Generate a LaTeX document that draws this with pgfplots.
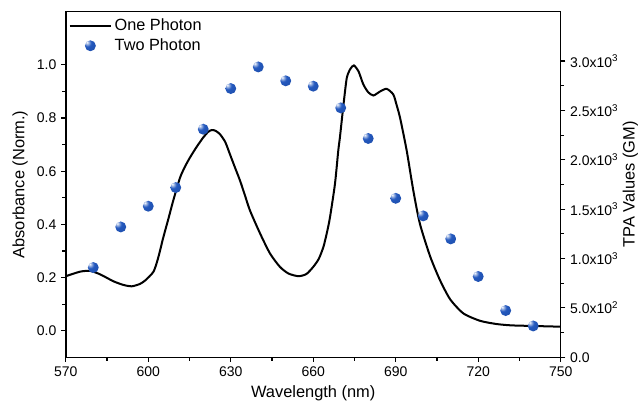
\documentclass[border=0pt]{standalone}
\usepackage{fontspec}
\setmainfont{Liberation Sans}
\usepackage{pgfplots}
\pgfplotsset{compat=1.18}
\definecolor{tpa}{RGB}{35,88,190}
\pgfdeclareradialshading{tpaballshade}{\pgfpoint{-16bp}{16bp}}{%
  color(0bp)=(white); color(7bp)=(tpa!45!white); color(17bp)=(tpa);
  color(55bp)=(tpa!85!black); color(72bp)=(tpa!65!black); color(100bp)=(tpa!65!black)}
\pgfdeclareplotmark{tpaball}{%
  \pgfpathcircle{\pgfpointorigin}{\pgfplotmarksize}%
  \pgfshadepath{tpaballshade}{0}%
  \pgfusepath{discard}}
\pgfplotsset{
  lineleg/.style={legend image code/.code={\draw[##1] (0pt,0pt) -- (31pt,0pt);}},
  ballleg/.style={legend image code/.code={\draw[##1] plot coordinates {(15.5pt,0pt)};}},
  myaxis/.style={
    scale only axis, width=371pt, height=259pt,
    xmin=570, xmax=750,
    tick align=outside,
    axis line style={line width=1.1pt, black},
    every tick/.style={black, line width=0.9pt},
    major tick length=3.5pt, minor tick length=2.5pt,
    /pgf/number format/assume math mode=true,
    ticklabel style={font=\fontsize{10.5}{12}\selectfont},
    label style={font=\fontsize{12.3}{14}\selectfont},
  }
}
\begin{document}
\begin{tikzpicture}
\begin{axis}[myaxis, name=main,
  ymin=-0.1, ymax=1.2,
  xtick={570,600,630,660,690,720,750}, minor x tick num=1,
  ytick={0,0.2,0.4,0.6,0.8,1}, minor y tick num=1,
  xtick pos=left, ytick pos=left,
  y tick label style={/pgf/number format/fixed, /pgf/number format/fixed zerofill, /pgf/number format/precision=1},
  xlabel={Wavelength (nm)}, ylabel={Absorbance (Norm.)},
  legend style={at={(0,0.995)}, xshift=-1pt, anchor=north west, draw=none, fill=none,
    font=\fontsize{12.2}{14}\selectfont, row sep=0.5pt},
  legend cell align=left,
]
\addplot[black, line width=1.5pt, smooth, tension=0.4, lineleg] coordinates {
(570,0.205) (575.2,0.222) (578.8,0.225) (582.5,0.212) (587.3,0.186) (591,0.172)
(594,0.167) (597,0.176) (599,0.19) (601.9,0.222) (603.5,0.27) (605.5,0.352)
(607.3,0.42) (609.1,0.49) (611.6,0.577) (613.5,0.62) (615.2,0.652) (617.5,0.69)
(620,0.727) (621.8,0.748) (623.1,0.755) (624.5,0.752) (626.1,0.739) (628,0.71)
(629.7,0.664) (631.5,0.615) (633.4,0.564) (635.2,0.508) (637,0.452) (640.7,0.365)
(644.3,0.29) (647.9,0.24) (651,0.215) (654.6,0.205) (657.5,0.213) (660,0.24)
(662,0.27) (663.7,0.315) (665,0.37) (666.1,0.427) (667.9,0.552) (669.1,0.677)
(669.7,0.727) (671,0.85) (672.2,0.951) (673.5,0.985) (674.8,0.998) (676.5,0.975)
(678.2,0.927) (680,0.897) (681.9,0.885) (684.3,0.9) (686.7,0.91) (689.1,0.889)
(690.3,0.85) (691.6,0.80) (694.0,0.677) (696.4,0.527) (698.8,0.402) (702.5,0.28)
(706.1,0.19) (709.8,0.118) (714.6,0.065) (720.7,0.037) (726.7,0.025) (732,0.02)
(738.8,0.018) (750,0.015)
};
\addlegendentry{One Photon}
\addlegendimage{only marks, mark=tpaball, mark size=4.1pt, ballleg}
\addlegendentry{Two Photon}
\end{axis}
\begin{axis}[myaxis,
  ymin=0, ymax=3500,
  axis x line=none, axis y line*=right,
  ytick={0,500,1000,1500,2000,2500,3000}, minor y tick num=1,
  yticklabels={0.0, 5.0x10\textsuperscript{2}, 1.0x10\textsuperscript{3}, 1.5x10\textsuperscript{3}, 2.0x10\textsuperscript{3}, 2.5x10\textsuperscript{3}, 3.0x10\textsuperscript{3}},
  ylabel={TPA Values (GM)},
  ylabel style={yshift=3.5pt},
]
\addplot[only marks, mark=tpaball, mark size=4.1pt] coordinates {
(580,909) (590,1320) (600,1530) (610,1719) (620,2310) (630,2722) (640,2941)
(650,2800) (660,2746) (670,2526) (680,2216) (690,1610) (700,1432) (710,1199)
(720,818) (730,473) (740,317)
};
\end{axis}
\pgfresetboundingbox
\path[use as bounding box] ([xshift=-49.3pt, yshift=-37.5pt]main.south west) rectangle ([xshift=60.2pt, yshift=8.8pt]main.north east);
\end{tikzpicture}
\end{document}
